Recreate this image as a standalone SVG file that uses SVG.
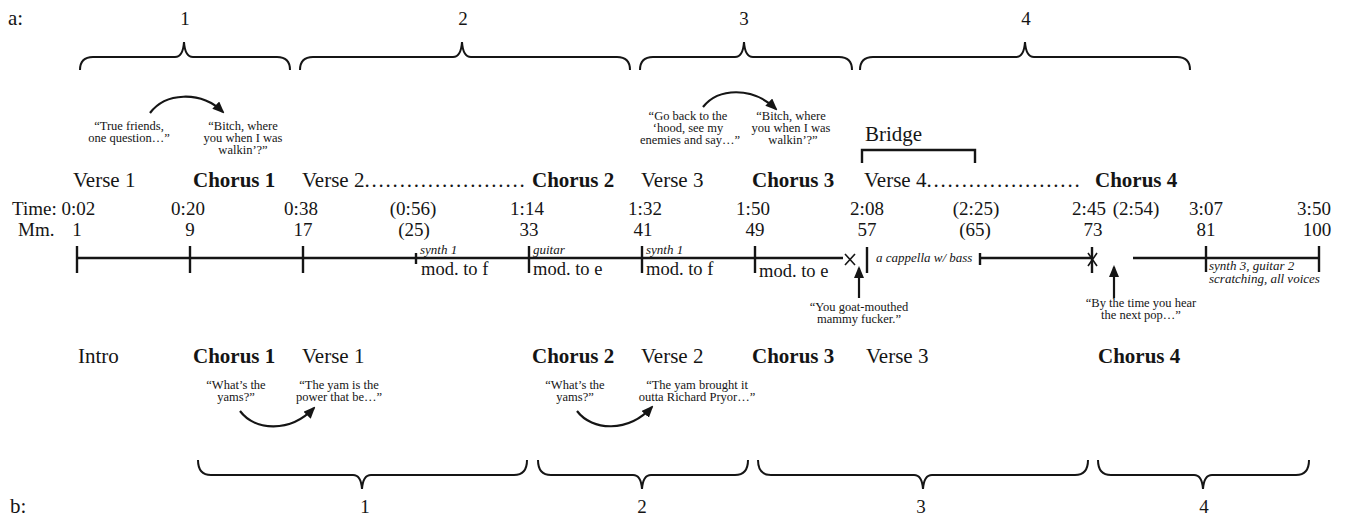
<svg xmlns="http://www.w3.org/2000/svg" width="1346" height="518" viewBox="0 0 1346 518">
<style>
text{font-family:"Liberation Serif","Times New Roman",serif;fill:#151515}
.lab{font-size:21px}
.b{font-weight:bold}
.num{font-size:19px;text-anchor:middle}
.brn{font-size:19px;text-anchor:middle}
.q{font-size:12.5px;text-anchor:middle}
.it{font-style:italic;font-size:13px}
.mod{font-size:18.5px}
.brace{fill:none;stroke:#151515;stroke-width:2}
.tl{stroke:#151515;stroke-width:2.6;fill:none}
.tick{stroke:#151515;stroke-width:2.4}
.thin{stroke:#151515;stroke-width:1.6}
.arc{fill:none;stroke:#151515;stroke-width:2.2}
.dots{letter-spacing:1.8px}
</style>
<defs>
<marker id="ah" markerUnits="userSpaceOnUse" markerWidth="12" markerHeight="10" viewBox="0 0 12 10" refX="10" refY="5" orient="auto">
<path d="M0,0 L12,5 L0,10 z" fill="#151515"/>
</marker>
</defs>

<g id="panel-labels">
<text class="lab" x="8" y="25" font-size="19">a:</text>
<text class="lab" x="10" y="513" font-size="19">b:</text>
</g>

<g id="top-braces">
<path class="brace" d="M80,70 Q80,57 93,57 H175 Q183,57 184,42 Q185,57 193,57 H277 Q290,57 290,70"/>
<path class="brace" d="M300,70 Q300,57 313,57 H453 Q461,57 462,42 Q463,57 471,57 H617 Q630,57 630,70"/>
<path class="brace" d="M640,70 Q640,57 653,57 H735 Q743,57 744,42 Q745,57 753,57 H839 Q852,57 852,70"/>
<path class="brace" d="M860,70 Q860,57 873,57 H1016 Q1024,57 1025,42 Q1026,57 1034,57 H1177 Q1190,57 1190,70"/>
<text class="brn" x="185" y="25">1</text>
<text class="brn" x="463" y="25">2</text>
<text class="brn" x="744" y="25">3</text>
<text class="brn" x="1026" y="25">4</text>
</g>

<g id="bottom-braces">
<path class="brace" d="M198,460 Q198,475 211,475 H353 Q361,475 362,489 Q363,475 371,475 H514 Q527,475 527,460"/>
<path class="brace" d="M538,460 Q538,475 551,475 H633 Q641,475 642,489 Q643,475 651,475 H735 Q748,475 748,460"/>
<path class="brace" d="M758,460 Q758,475 771,475 H914 Q922,475 923,489 Q924,475 932,475 H1075 Q1088,475 1088,460"/>
<path class="brace" d="M1098,460 Q1098,475 1111,475 H1194 Q1202,475 1203,489 Q1204,475 1212,475 H1296 Q1309,475 1309,460"/>
<text class="brn" x="365" y="513">1</text>
<text class="brn" x="642" y="513">2</text>
<text class="brn" x="921" y="513">3</text>
<text class="brn" x="1204" y="513">4</text>
</g>

<g id="top-quotes">
<text class="q" y="130"><tspan x="129">“True friends,</tspan><tspan x="129" dy="12">one question…”</tspan></text>
<text class="q" y="130"><tspan x="243">“Bitch, where</tspan><tspan x="243" dy="12">you when I was</tspan><tspan x="243" dy="12">walkin’?”</tspan></text>
<text class="q" y="120"><tspan x="688">“Go back to the</tspan><tspan x="688" dy="12">‘hood, see my</tspan><tspan x="690" dy="12">enemies and say…”</tspan></text>
<text class="q" y="120"><tspan x="791">“Bitch, where</tspan><tspan x="791" dy="12">you when I was</tspan><tspan x="793" dy="12">walkin’?”</tspan></text>
</g>

<g id="bridge">
<text class="lab" x="865" y="141">Bridge</text>
<path class="tick" d="M862,163 V150 H975 V163" fill="none" stroke-width="2"/>
</g>

<g id="top-sections">
<text class="lab" x="73" y="187">Verse 1</text>
<text class="lab b" x="193" y="187">Chorus 1</text>
<text class="lab" x="302" y="187">Verse 2<tspan class="dots">.......................</tspan></text>
<text class="lab b" x="532" y="187">Chorus 2</text>
<text class="lab" x="641" y="187">Verse 3</text>
<text class="lab b" x="752" y="187">Chorus 3</text>
<text class="lab" x="864" y="187">Verse 4<tspan class="dots">......................</tspan></text>
<text class="lab b" x="1095" y="187">Chorus 4</text>
</g>

<g id="time-row">
<text x="12" y="215" font-size="19">Time: 0:02</text>
<text class="num" x="188" y="215">0:20</text>
<text class="num" x="301" y="215">0:38</text>
<text class="num" x="413" y="215">(0:56)</text>
<text class="num" x="527" y="215">1:14</text>
<text class="num" x="645" y="215">1:32</text>
<text class="num" x="753" y="215">1:50</text>
<text class="num" x="867" y="215">2:08</text>
<text class="num" x="976" y="215">(2:25)</text>
<text class="num" x="1089" y="215">2:45</text>
<text class="num" x="1136" y="215">(2:54)</text>
<text class="num" x="1206" y="215">3:07</text>
<text class="num" x="1314" y="215">3:50</text>
</g>

<g id="measure-row">
<text x="18" y="236" font-size="19">Mm.</text>
<text class="num" x="77" y="236">1</text>
<text class="num" x="190" y="236">9</text>
<text class="num" x="303" y="236">17</text>
<text class="num" x="414" y="236">(25)</text>
<text class="num" x="529" y="236">33</text>
<text class="num" x="643" y="236">41</text>
<text class="num" x="755" y="236">49</text>
<text class="num" x="867" y="236">57</text>
<text class="num" x="975" y="236">(65)</text>
<text class="num" x="1093" y="236">73</text>
<text class="num" x="1206" y="236">81</text>
<text class="num" x="1317" y="236">100</text>
</g>

<g id="timeline">
<line class="tl" x1="77" y1="258" x2="843" y2="258"/>
<line class="tl" x1="980" y1="258" x2="1093" y2="258"/>
<line class="tl" x1="1133" y1="258" x2="1319" y2="258"/>
<line class="tick" x1="77" y1="246" x2="77" y2="273"/>
<line class="tick" x1="190" y1="246" x2="190" y2="273"/>
<line class="tick" x1="303" y1="246" x2="303" y2="273"/>
<line class="tick" x1="416" y1="253" x2="416" y2="264"/>
<line class="tick" x1="529" y1="246" x2="529" y2="273"/>
<line class="tick" x1="642" y1="246" x2="642" y2="273"/>
<line class="tick" x1="755" y1="246" x2="755" y2="273"/>
<line class="tick" x1="867" y1="247" x2="867" y2="273"/>
<line class="tick" x1="980" y1="253" x2="980" y2="265"/>
<line class="tick" x1="1092" y1="247" x2="1092" y2="273"/>
<line class="tick" x1="1206" y1="246" x2="1206" y2="272"/>
<line class="tick" x1="1319" y1="246" x2="1319" y2="272"/>
<path class="thin" d="M845,254 L855,265 M845,265 L855,254"/>
<path class="thin" d="M1088,253 L1097,266 M1088,266 L1097,253"/>
</g>

<g id="annotations">
<text class="it" x="420" y="254">synth 1</text>
<text class="it" x="533" y="254">guitar</text>
<text class="it" x="646" y="254">synth 1</text>
<text class="mod" x="421" y="275">mod. to f</text>
<text class="mod" x="533" y="275">mod. to e</text>
<text class="mod" x="646" y="275">mod. to f</text>
<text class="mod" x="759" y="277">mod. to e</text>
<text class="it" x="876" y="262" font-size="12.8">a cappella w/ bass</text>
<text class="it" x="1209" y="270" font-size="12">synth 3, guitar 2</text>
<text class="it" x="1209" y="283" font-size="12">scratching, all voices</text>
</g>

<g id="callouts">
<text class="q" y="311"><tspan x="859">“You goat-mouthed</tspan><tspan x="859" dy="12">mammy fucker.”</tspan></text>
<text class="q" y="307"><tspan x="1141">“By the time you hear</tspan><tspan x="1141" dy="12">the next pop…”</tspan></text>
</g>

<g id="bottom-sections">
<text class="lab" x="78" y="363">Intro</text>
<text class="lab b" x="193" y="363">Chorus 1</text>
<text class="lab" x="302" y="363">Verse 1</text>
<text class="lab b" x="532" y="363">Chorus 2</text>
<text class="lab" x="641" y="363">Verse 2</text>
<text class="lab b" x="752" y="363">Chorus 3</text>
<text class="lab" x="866" y="363">Verse 3</text>
<text class="lab b" x="1098" y="363">Chorus 4</text>
</g>

<g id="bottom-quotes">
<text class="q" y="389"><tspan x="236">“What’s the</tspan><tspan x="236" dy="12">yams?”</tspan></text>
<text class="q" y="389"><tspan x="339">“The yam is the</tspan><tspan x="339" dy="12">power that be…”</tspan></text>
<text class="q" y="389"><tspan x="575">“What’s the</tspan><tspan x="575" dy="12">yams?”</tspan></text>
<text class="q" y="389"><tspan x="697">“The yam brought it</tspan><tspan x="697" dy="12">outta Richard Pryor…”</tspan></text>
</g>

<g id="connectors">
<path class="arc" d="M150,113 C165,93 200,90 223,112" marker-end="url(#ah)"/>
<path class="arc" d="M703,107 C718,88 752,86 776,109" marker-end="url(#ah)"/>
<path class="arc" d="M240,411 C255,431 290,433 314,408" marker-end="url(#ah)"/>
<path class="arc" d="M577,411 C592,431 628,433 652,407" marker-end="url(#ah)"/>
<line class="arc" x1="859" y1="298" x2="859" y2="268" marker-end="url(#ah)"/>
<line class="arc" x1="1114" y1="298" x2="1114" y2="267" marker-end="url(#ah)"/>
</g>
</svg>
